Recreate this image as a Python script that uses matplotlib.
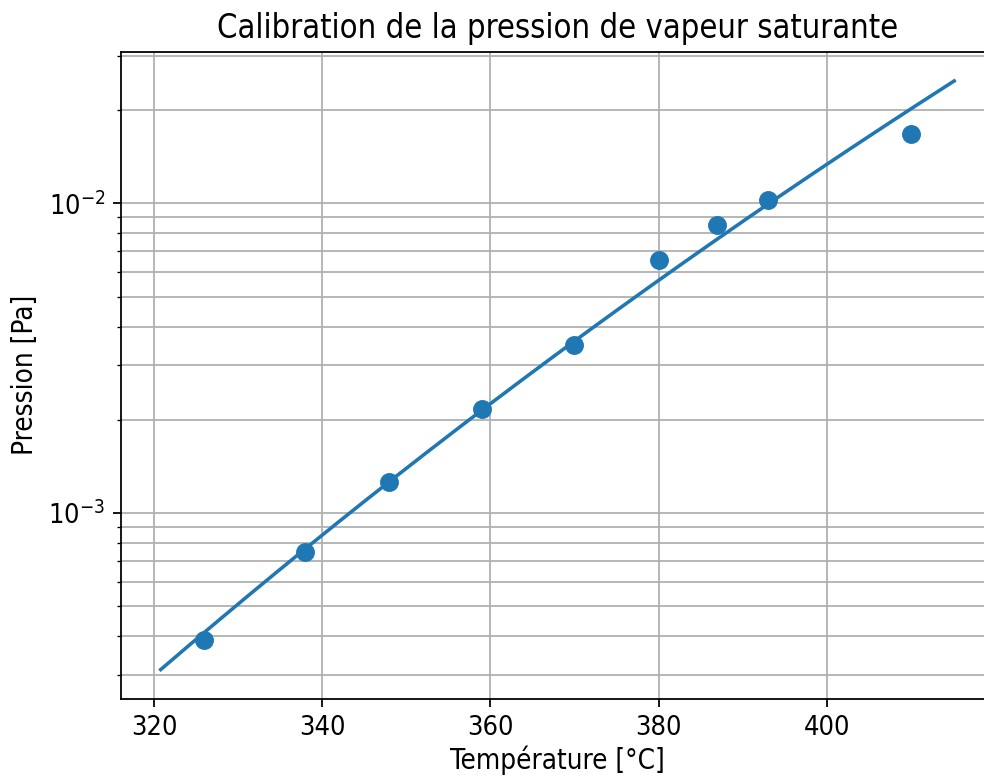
import numpy as np
import matplotlib
matplotlib.use("Agg")
import matplotlib.pyplot as plt
from matplotlib.ticker import MultipleLocator

plt.rcParams["font.stretch"] = "condensed"

# Measured saturated vapour pressure
temperature_c = [326, 338, 348, 359, 370, 380, 387, 393, 410]
pression_pa = [3.88e-4, 7.47e-4, 1.26e-3, 2.165e-3, 3.48e-3, 6.58e-3, 8.49e-3, 1.028e-2, 1.675e-2]

# Calibration law: log10(p) = A - B / (T + 273.15)
calib_A = 10.359
calib_B = 8234.8
calib_t_min = 320.8
calib_t_max = 415.15

t_fit = np.linspace(calib_t_min, calib_t_max, 300)
p_fit = 10 ** (calib_A - calib_B / (t_fit + 273.15))

fig = plt.figure(figsize=(984 / 160, 776 / 160), dpi=160)
ax = fig.add_axes([0.123, 0.0992, 1.010 - 0.123, 0.9336 - 0.0992])

ax.plot(temperature_c, pression_pa, "o", color="#1f77b4", markersize=7.5)
ax.plot(t_fit, p_fit, "-", color="#1f77b4", linewidth=1.6)

ax.set_yscale("log")
ax.xaxis.set_major_locator(MultipleLocator(20))
ax.grid(True, which="both", axis="y")
ax.grid(True, which="major", axis="x")
ax.tick_params(labelsize=12.2)

ax.set_title("Calibration de la pression de vapeur saturante", fontsize=14.7)
ax.set_xlabel("Température [°C]", fontsize=12.5, labelpad=2)
ax.set_ylabel("Pression [Pa]", fontsize=12.5)

fig.savefig("out.png", dpi=160)
